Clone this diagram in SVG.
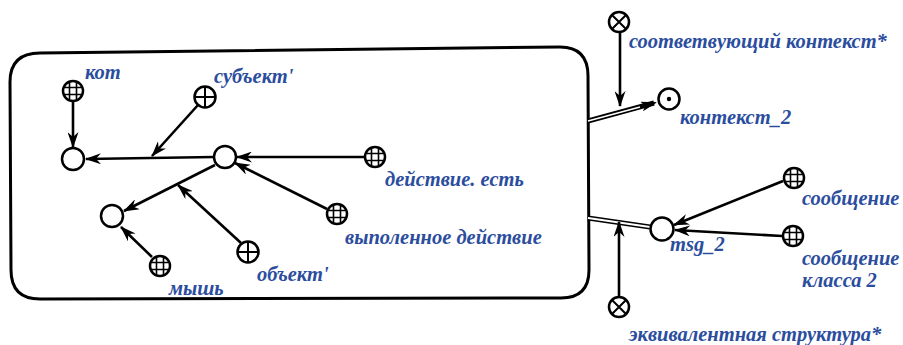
<svg xmlns="http://www.w3.org/2000/svg" width="903" height="345" viewBox="0 0 903 345">
<style>
.lbl{font-family:"Liberation Serif","DejaVu Serif",serif;font-weight:bold;font-style:italic;font-size:20.5px;fill:#2b4d9e}
.n{fill:#fff;stroke:#000;stroke-width:2.5}
.in{stroke:#000;stroke-width:1.6;fill:none}
.c{stroke:#000;stroke-width:2.6;fill:none}
.frame{fill:none;stroke:#000;stroke-width:3}
</style>
<defs>
<marker id="ah" viewBox="0 0 16 11" refX="15" refY="5.5" markerWidth="16" markerHeight="11" markerUnits="userSpaceOnUse" orient="auto">
<path d="M0,0 L16,5.5 L0,11 L5,5.5 z" fill="#000"/>
</marker>
<marker id="ah2" viewBox="0 0 16 10" refX="15" refY="5" markerWidth="16" markerHeight="10" markerUnits="userSpaceOnUse" orient="auto">
<path d="M0,0 L16,5 L0,10 L4,5 z" fill="#000"/>
</marker>
</defs>
<path class="frame" d="M10,82 Q10,53 40,53 L560,47 Q588,47 588,76 L589,270 Q589,298 561,298 L40,299 Q11,299 11,270 Z"/>
<g id="connectors">
<line class="c" x1="73" y1="102" x2="73" y2="147" marker-end="url(#ah)"/>
<line class="c" x1="214" y1="157" x2="86" y2="159" marker-end="url(#ah)"/>
<line class="c" x1="198" y1="105" x2="152" y2="156" marker-end="url(#ah)"/>
<line class="c" x1="364" y1="157" x2="237" y2="157" marker-end="url(#ah)"/>
<line class="c" x1="327" y1="209" x2="235" y2="163" marker-end="url(#ah)"/>
<line class="c" x1="215" y1="165" x2="124" y2="211" marker-end="url(#ah)"/>
<line class="c" x1="241" y1="243" x2="178" y2="185" marker-end="url(#ah)"/>
<line class="c" x1="152" y1="257" x2="121" y2="227" marker-end="url(#ah)"/>
<line x1="588" y1="121" x2="654" y2="103" stroke="#000" stroke-width="5"/>
<line x1="588" y1="121" x2="640" y2="107" stroke="#fff" stroke-width="1.8"/>
<line x1="640" y1="107" x2="656" y2="102.5" stroke="#000" stroke-width="1" marker-end="url(#ah2)"/>
<line x1="588" y1="218" x2="650" y2="227" stroke="#000" stroke-width="5"/>
<line x1="588" y1="218" x2="650" y2="227" stroke="#fff" stroke-width="1.8"/>
<line class="c" x1="620" y1="33" x2="620" y2="106" marker-end="url(#ah)"/>
<line class="c" x1="619" y1="296" x2="619" y2="222" marker-end="url(#ah)"/>
<line class="c" x1="783" y1="181" x2="674" y2="225" marker-end="url(#ah)"/>
<line class="c" x1="782" y1="236" x2="675" y2="230" marker-end="url(#ah)"/>
</g>
<g id="kot">
<circle class="n" cx="73" cy="91" r="10"/>
<path class="in" d="M69.5,82 V100 M76.5,82 V100 M64,87.5 H82 M64,94.5 H82"/>
<text class="lbl" x="85" y="79">кот</text>
</g>
<g id="a"><circle class="n" cx="73" cy="159" r="11"/></g>
<g id="b"><circle class="n" cx="225" cy="157" r="11"/></g>
<g id="c"><circle class="n" cx="112" cy="216" r="11"/></g>
<g id="subj">
<circle class="n" cx="205" cy="97" r="10.5"/>
<path class="in" d="M205,86.5 V107.5 M194.5,97 H215.5" style="stroke-width:2"/>
<text class="lbl" x="214" y="83">субъект'</text>
</g>
<g id="obj">
<circle class="n" cx="248" cy="252" r="10.5"/>
<path class="in" d="M248,241.5 V262.5 M237.5,252 H258.5" style="stroke-width:2"/>
<text class="lbl" x="257" y="281">объект'</text>
</g>
<g id="mysh">
<circle class="n" cx="160" cy="266" r="10"/>
<path class="in" d="M156.5,257 V275 M163.5,257 V275 M151,262.5 H169 M151,269.5 H169"/>
<text class="lbl" x="169" y="295">мышь</text>
</g>
<g id="deyst">
<circle class="n" cx="375" cy="157" r="10"/>
<path class="in" d="M371.5,148 V166 M378.5,148 V166 M366,153.5 H384 M366,160.5 H384"/>
<text class="lbl" x="385" y="186">действие. есть</text>
</g>
<g id="vypol">
<circle class="n" cx="337" cy="214" r="10"/>
<path class="in" d="M333.5,205 V223 M340.5,205 V223 M328,210.5 H346 M328,217.5 H346"/>
<text class="lbl" x="345" y="244">выполенное действие</text>
</g>
<g id="sootv">
<circle class="n" cx="619" cy="22" r="10"/>
<path class="in" d="M612,15 L626,29 M626,15 L612,29" style="stroke-width:2"/>
<text class="lbl" x="629" y="48">соответвующий контекст*</text>
</g>
<g id="kontekst2">
<circle class="n" cx="669" cy="99" r="10.5"/>
<circle cx="669" cy="99" r="2.2" fill="#000"/>
<text class="lbl" x="680" y="124">контекст_2</text>
</g>
<g id="msg2">
<circle class="n" cx="662" cy="229" r="11.5"/>
<text class="lbl" x="670" y="251">msg_2</text>
</g>
<g id="soobsh">
<circle class="n" cx="794" cy="178" r="10"/>
<path class="in" d="M790.5,169 V187 M797.5,169 V187 M785,174.5 H803 M785,181.5 H803"/>
<text class="lbl" x="802" y="205">сообщение</text>
</g>
<g id="soobsh2">
<circle class="n" cx="793" cy="236" r="10"/>
<path class="in" d="M789.5,227 V245 M796.5,227 V245 M784,232.5 H802 M784,239.5 H802"/>
<text class="lbl" x="802" y="265">сообщение</text>
<text class="lbl" x="802" y="287">класса 2</text>
</g>
<g id="ekviv">
<circle class="n" cx="619" cy="307" r="10"/>
<path class="in" d="M612,300 L626,314 M626,300 L612,314" style="stroke-width:2"/>
<text class="lbl" x="629" y="341">эквивалентная структура*</text>
</g>
</svg>
